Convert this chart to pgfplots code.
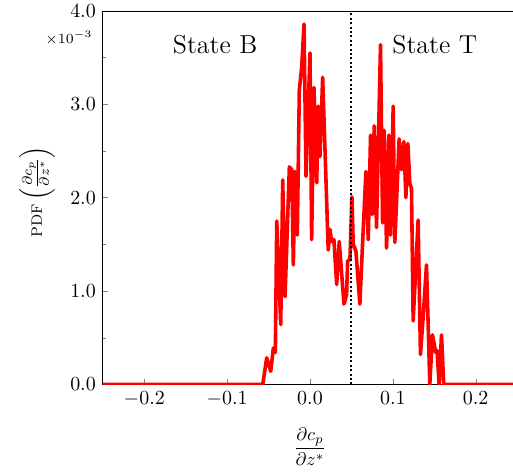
\documentclass[border=0pt]{standalone}
\usepackage{amsmath}
\usepackage{pgfplots}
\pgfplotsset{compat=1.18}

\begin{document}
\begin{tikzpicture}
\begin{axis}[
    scale only axis,
    width=207.5pt, height=187pt,
    xmin=-0.25, xmax=0.25,
    ymin=0, ymax=0.004,
    xtick pos=bottom, ytick pos=left,
    tick align=inside,
    major tick length=2.5pt, minor tick length=1.5pt,
    xtick={-0.2,-0.1,0,0.1,0.2},
    ytick={0,0.001,0.002,0.003,0.004},
    minor y tick num=1,
    scaled x ticks=false,
    scaled y ticks=base 10:3,
    tick scale binop=\times,
    xticklabel style={/pgf/number format/fixed,/pgf/number format/fixed zerofill,/pgf/number format/precision=1},
    yticklabel style={/pgf/number format/fixed,/pgf/number format/fixed zerofill,/pgf/number format/precision=1},
    every y tick scale label/.style={at={(rel axis cs:0,1)}, anchor=north east,
        inner sep=0pt, xshift=-5pt, yshift=-9.5pt, font=\scriptsize},
    xlabel={$\dfrac{\partial c_p}{\partial z^*}$},
    xlabel style={at={(axis description cs:0.5,0)}, anchor=north, inner sep=0pt,
        yshift=-21.5pt, scale=0.92},
    ylabel={$\text{\fontsize{7.5}{9}\selectfont PDF}\left(\frac{\partial c_p}{\partial z^*}\right)$},
    ylabel style={at={(axis description cs:-0.159,0.516)}, anchor=center},
]
\addplot[red, line width=1.8pt, line join=round] coordinates {
(-0.25,0) (-0.0570,0)
(-0.0522,0.285e-3) (-0.0474,0.14e-3) (-0.0442,0.39e-3) (-0.0418,0.34e-3)
(-0.0401,1.75e-3) (-0.0353,0.64e-3) (-0.0329,2.19e-3) (-0.0301,0.94e-3)
(-0.0249,2.33e-3) (-0.0220,2.30e-3) (-0.0201,1.28e-3) (-0.0181,2.28e-3)
(-0.0153,1.60e-3) (-0.0129,3.15e-3) (-0.0100,3.40e-3) (-0.0072,3.86e-3)
(-0.0048,2.23e-3) (0.0000,3.55e-3) (0.0020,1.55e-3) (0.0048,3.18e-3)
(0.0081,2.16e-3) (0.0100,2.98e-3) (0.0120,2.44e-3) (0.0153,3.29e-3)
(0.0220,1.44e-3) (0.0241,1.66e-3) (0.0261,1.53e-3) (0.0289,1.55e-3)
(0.0322,1.07e-3) (0.0353,1.53e-3) (0.0410,0.86e-3) (0.0442,0.96e-3)
(0.0454,1.32e-3) (0.0482,1.34e-3) (0.0506,2.01e-3) (0.0522,1.50e-3)
(0.0554,1.43e-3) (0.0602,0.86e-3) (0.0635,1.52e-3) (0.0675,2.28e-3)
(0.0703,1.55e-3) (0.0731,2.67e-3) (0.0751,1.82e-3) (0.0775,2.77e-3)
(0.0803,1.68e-3) (0.0851,3.64e-3) (0.0876,1.73e-3) (0.0896,2.72e-3)
(0.0924,1.46e-3) (0.0952,2.67e-3) (0.0972,1.60e-3) (0.1004,2.98e-3)
(0.1024,1.52e-3) (0.1076,2.63e-3) (0.1104,2.30e-3) (0.1133,2.60e-3)
(0.1157,2.00e-3) (0.1181,2.58e-3) (0.1205,2.15e-3) (0.1225,2.10e-3)
(0.1245,0.68e-3) (0.1305,1.76e-3) (0.1333,0.32e-3) (0.1365,0.71e-3)
(0.1406,1.28e-3) (0.1446,0) (0.1478,0.53e-3) (0.1518,0.34e-3)
(0.1534,0.36e-3) (0.1558,0) (0.1587,0.53e-3) (0.1614,0)
(0.25,0)
};
\addplot[black, line width=1pt, dash pattern=on 1pt off 1.2pt] coordinates {(0.05,0) (0.05,0.004)};
\node[font=\fontsize{13}{15}\selectfont] at (axis cs:-0.1145,0.00364) {State B};
\node[font=\fontsize{13}{15}\selectfont] at (axis cs:0.1506,0.00364) {State T};
\coordinate (bl) at (rel axis cs:0,0);
\coordinate (tr) at (rel axis cs:0.99,1);
\end{axis}
\pgfresetboundingbox
\path (bl) ++(-51.5pt,-44pt) rectangle ([yshift=5.5pt]tr);
\end{tikzpicture}
\end{document}
